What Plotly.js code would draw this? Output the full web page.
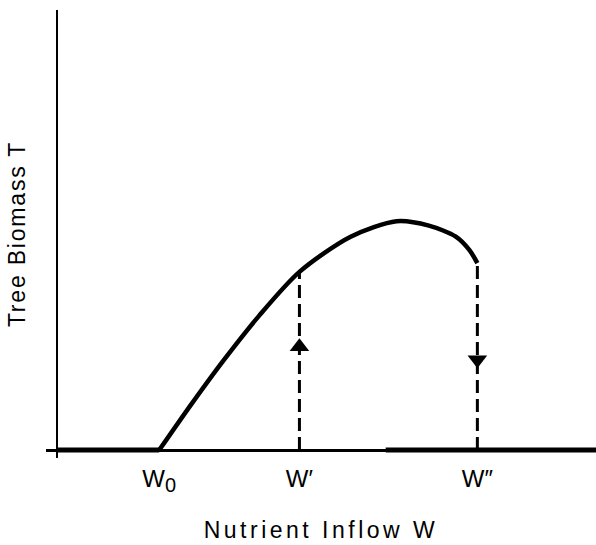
<!DOCTYPE html>
<html>
<head>
<meta charset="utf-8">
<script src="https://cdn.plot.ly/plotly-3.0.1.min.js"></script>
<style>
  html, body { margin: 0; padding: 0; background: #fff; }
  #chart { width: 596px; height: 545px; }
  .xtitle { letter-spacing: 3.5px; }
  .ytitle { letter-spacing: 1.8px; }
</style>
</head>
<body>
<div id="chart"></div>
<script>
// Nutrient inflow W (x) vs tree biomass T (y), arbitrary units
var curveW = [1.9, 2.5, 3.1, 3.75, 4.5, 5.45, 6.3, 6.9, 7.4, 7.65, 7.8];
var curveT = [0, 1.05, 2.05, 3.05, 4.05, 4.85, 5.2, 5.1, 4.85, 4.55, 4.25];

var W0 = 1.9, W1 = 4.5, W2 = 7.8;
var T_at_W1 = 4.05, T_at_W2 = 4.25;

var lowBranchW1 = [0, W0];
var lowBranchW2 = [6.1, 10];
var lowBranchT = [0, 0];

var arrowW = [W1, W2];
var arrowT = [2.35, 2.05];
var arrowSymbols = ['triangle-up', 'triangle-down'];

var tickVals = [W0, W1, W2];
var tickText = ['W<sub><span style="font-size:20px">0</span></sub>', 'W\u2032', 'W\u2033'];

var black = '#000';
var traces = [
  {x: lowBranchW1, y: lowBranchT, mode: 'lines', line: {color: black, width: 5}},
  {x: lowBranchW2, y: lowBranchT, mode: 'lines', line: {color: black, width: 5}},
  {x: curveW, y: curveT, mode: 'lines', line: {color: black, width: 4.5, shape: 'spline', smoothing: 0.8}},
  {x: [W1, W1], y: [0, T_at_W1], mode: 'lines', line: {color: black, width: 3, dash: '13px,6px'}},
  {x: [W2, W2], y: [0, T_at_W2], mode: 'lines', line: {color: black, width: 3, dash: '13px,6px'}},
  {x: arrowW, y: arrowT, mode: 'markers', cliponaxis: false,
   marker: {symbol: arrowSymbols, size: 17, color: black, line: {width: 0}}}
];

var layout = {
  width: 596, height: 545,
  margin: {l: 46, r: 0, t: 10, b: 87},
  paper_bgcolor: '#fff', plot_bgcolor: '#fff',
  showlegend: false,
  font: {family: '"Liberation Sans", Arial, sans-serif', color: black, size: 23},
  xaxis: {
    range: [-0.2, 10], showgrid: false, showline: false,
    zeroline: true, zerolinecolor: black, zerolinewidth: 2.5,
    tickmode: 'array', tickvals: tickVals, ticktext: tickText,
    ticks: '', ticklabelstandoff: 4,
    tickfont: {size: 24},
    title: {text: 'Nutrient Inflow W', font: {size: 23}, standoff: 26}
  },
  yaxis: {
    range: [-0.18, 10], showgrid: false, showline: false,
    zeroline: true, zerolinecolor: black, zerolinewidth: 3,
    showticklabels: false, ticks: '',
    title: {text: 'Tree Biomass T', font: {size: 23}, standoff: 12}
  }
};

Plotly.newPlot('chart', traces, layout, {staticPlot: true, displayModeBar: false});
</script>
</body>
</html>
